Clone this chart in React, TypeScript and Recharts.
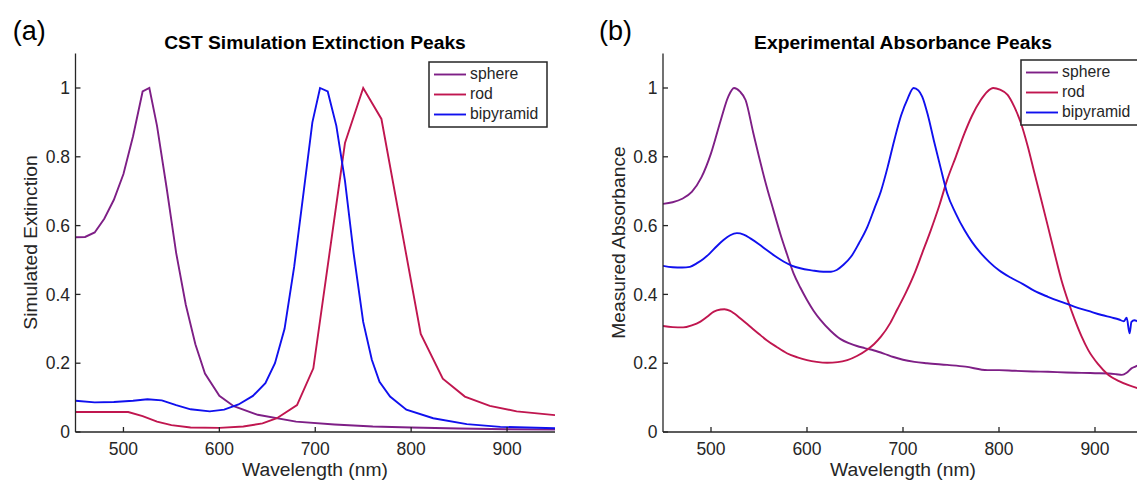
import React from 'react'
import { LineChart, Line, XAxis, YAxis } from 'recharts'

// (a) CST simulation, wavelength in nm
const simSphereX = [450, 460, 470, 480, 490, 500, 510, 520, 527, 535, 545, 555, 565, 575, 585, 600, 615, 640, 680, 720, 760, 800, 850, 900, 950]
const simSphereY = [0.566, 0.567, 0.58, 0.62, 0.675, 0.75, 0.86, 0.99, 1.0, 0.89, 0.71, 0.52, 0.37, 0.255, 0.17, 0.105, 0.075, 0.05, 0.03, 0.022, 0.016, 0.013, 0.01, 0.008, 0.007]

const simRodX = [450, 470, 490, 505, 520, 535, 550, 570, 600, 625, 645, 660, 681, 698, 731, 750, 769, 810, 833, 856, 882, 910, 950]
const simRodY = [0.058, 0.058, 0.058, 0.058, 0.046, 0.03, 0.02, 0.013, 0.012, 0.016, 0.025, 0.04, 0.078, 0.185, 0.84, 1.0, 0.91, 0.285, 0.155, 0.103, 0.076, 0.06, 0.049]

const simBipyX = [450, 470, 490, 510, 525, 540, 555, 570, 590, 605, 620, 635, 648, 658, 668, 678, 688, 697, 705, 713, 722, 731, 740, 750, 759, 767, 778, 795, 823, 858, 893, 950]
const simBipyY = [0.091, 0.086, 0.087, 0.091, 0.095, 0.092, 0.078, 0.066, 0.06, 0.065, 0.08, 0.105, 0.142, 0.2, 0.3, 0.48, 0.7, 0.9, 1.0, 0.99, 0.89, 0.73, 0.52, 0.32, 0.21, 0.146, 0.103, 0.065, 0.04, 0.023, 0.015, 0.011]

// (b) measured absorbance
const expSphereX = [450, 460, 470, 480, 490, 500, 510, 518, 524, 530, 536, 544, 550, 558, 565, 572, 579, 586, 593, 600, 607, 614, 625, 635, 645, 652, 660, 670, 680, 690, 700, 712, 725, 746, 765, 788, 800, 816, 835, 851, 870, 886, 900, 914, 922, 928, 933, 938, 942, 946, 950]
const expSphereY = [0.663, 0.668, 0.678, 0.698, 0.74, 0.81, 0.905, 0.975, 1.0, 0.99, 0.965, 0.87, 0.8, 0.713, 0.645, 0.578, 0.518, 0.461, 0.42, 0.384, 0.352, 0.326, 0.293, 0.27, 0.257, 0.25, 0.244, 0.237, 0.228, 0.218, 0.21, 0.204, 0.2, 0.195, 0.19, 0.18, 0.18, 0.178, 0.176, 0.175, 0.173, 0.172, 0.171, 0.17, 0.168, 0.166, 0.172, 0.185, 0.19, 0.195, 0.19]

const expRodX = [450, 460, 471, 480, 489, 496, 503, 510, 514, 520, 524, 532, 541, 550, 558, 568, 579, 590, 600, 610, 621, 632, 642, 652, 663, 670, 677, 687, 694, 703, 712, 720, 729, 738, 746, 755, 764, 772, 781, 788, 794, 801, 809, 816, 823, 830, 837, 844, 851, 858, 865, 872, 879, 886, 893, 903, 914, 925, 935, 945, 950]
const expRodY = [0.308, 0.305, 0.304, 0.31, 0.321, 0.335, 0.35, 0.356, 0.357, 0.352, 0.345, 0.327, 0.306, 0.285, 0.267, 0.248, 0.229, 0.217, 0.209, 0.204, 0.2015, 0.203, 0.209, 0.221, 0.24, 0.256, 0.277, 0.318, 0.356, 0.405, 0.461, 0.52, 0.587, 0.66, 0.733, 0.8, 0.868, 0.92, 0.965, 0.99, 1.0, 0.995, 0.98, 0.945, 0.897, 0.83, 0.752, 0.675, 0.597, 0.518, 0.442, 0.38, 0.326, 0.278, 0.238, 0.198, 0.166, 0.148, 0.136, 0.127, 0.123]

const expBipyX = [450, 460, 470, 478, 485, 492, 499, 506, 513, 520, 527, 534, 541, 550, 558, 567, 576, 584, 593, 605, 617, 625, 631, 638, 646, 654, 663, 670, 677, 684, 691, 698, 705, 711, 716, 720, 726, 732, 739, 746, 755, 764, 772, 781, 790, 800, 812, 825, 837, 851, 865, 879, 893, 907, 917, 925, 930, 933, 936, 938, 941, 945, 950]
const expBipyY = [0.483, 0.479, 0.478, 0.48, 0.49, 0.503, 0.52, 0.54, 0.558, 0.572, 0.578, 0.574, 0.563, 0.546, 0.529, 0.511, 0.495, 0.484, 0.476, 0.47, 0.466, 0.466, 0.471, 0.486, 0.51, 0.548, 0.597, 0.648, 0.7, 0.77, 0.849, 0.92, 0.97, 1.0, 0.993, 0.975, 0.92, 0.849, 0.77, 0.694, 0.635, 0.587, 0.552, 0.52, 0.494, 0.47, 0.449, 0.43, 0.41, 0.393, 0.378, 0.364, 0.352, 0.34, 0.333, 0.327, 0.322, 0.332, 0.287, 0.32, 0.325, 0.321, 0.318]

const xTicks = [500, 600, 700, 800, 900]
const yTicks = [0, 0.2, 0.4, 0.6, 0.8, 1]
const seriesNames = ['sphere', 'rod', 'bipyramid']

const COLORS = ['#7e1f86', '#c0164f', '#1010ee']
const AXIS = '#262626'
const FONT = '"Liberation Sans", Arial, Helvetica, sans-serif'

const zip = (xs: number[], ys: number[]) => xs.map((x, i) => ({ x, y: ys[i] }))

type PanelProps = {
    left: number
    width: number
    marginLeft: number
    marginRight: number
    series: { x: number; y: number }[][]
}

const Panel = ({ left, width, marginLeft, marginRight, series }: PanelProps) => (
    <div style={{ position: 'absolute', left, top: 0 }}>
        <LineChart
            width={width}
            height={483}
            margin={{ top: 53.6, right: marginRight, left: marginLeft, bottom: 21 }}
        >
            <XAxis
                dataKey="x"
                type="number"
                domain={[450, 950]}
                ticks={xTicks}
                allowDataOverflow
                height={30}
                stroke={AXIS}
                strokeWidth={1.3}
                tickSize={-5}
                tickMargin={15.6}
                tick={{ fill: AXIS, fontSize: 17.5, fontFamily: FONT }}
            />
            <YAxis
                dataKey="y"
                type="number"
                domain={[0, 1.1]}
                ticks={yTicks}
                allowDataOverflow
                width={60}
                stroke={AXIS}
                strokeWidth={1.3}
                tickSize={-5}
                tickMargin={10.5}
                tick={{ fill: AXIS, fontSize: 17.5, fontFamily: FONT }}
            />
            {series.map((d, i) => (
                <Line
                    key={seriesNames[i]}
                    data={d}
                    dataKey="y"
                    type={d.length > 40 ? 'monotone' : 'linear'}
                    stroke={COLORS[i]}
                    strokeWidth={1.9}
                    dot={false}
                    isAnimationActive={false}
                />
            ))}
        </LineChart>
    </div>
)

const LegendBox = ({ x, y }: { x: number; y: number }) => (
    <g>
        <rect x={x} y={y} width={118} height={65} fill="#fff" stroke={AXIS} strokeWidth={1.5} />
        {seriesNames.map((name, i) => (
            <g key={name}>
                <line x1={x + 5} x2={x + 37} y1={y + 12.5 + i * 20} y2={y + 12.5 + i * 20} stroke={COLORS[i]} strokeWidth={1.9} />
                <text x={x + 41} y={y + 17.3 + i * 20} fontSize={15.75} fontFamily={FONT} fill={AXIS}>
                    {name}
                </text>
            </g>
        ))}
    </g>
)

const App = () => {
    return (
        <div
            style={{
                position: 'fixed',
                left: 0,
                top: 0,
                width: 1137,
                height: 483,
                overflow: 'hidden',
                background: '#fff'
            }}
        >
            <Panel
                left={0}
                width={570}
                marginLeft={15.5}
                marginRight={15}
                series={[zip(simSphereX, simSphereY), zip(simRodX, simRodY), zip(simBipyX, simBipyY)]}
            />
            <Panel
                left={570}
                width={600}
                marginLeft={33}
                marginRight={27}
                series={[zip(expSphereX, expSphereY), zip(expRodX, expRodY), zip(expBipyX, expBipyY)]}
            />
            <svg
                width={1137}
                height={483}
                style={{ position: 'absolute', left: 0, top: 0, pointerEvents: 'none' }}
            >
                {/* panel letters */}
                <text x={12.7} y={40} fontSize={27} fontFamily={FONT} fill="#000">(a)</text>
                <text x={599} y={40} fontSize={27} fontFamily={FONT} fill="#000">(b)</text>

                {/* titles */}
                <text x={315} y={49} textAnchor="middle" fontSize={19.25} fontWeight="bold" fontFamily={FONT} fill="#000">
                    CST Simulation Extinction Peaks
                </text>
                <text x={903} y={49} textAnchor="middle" fontSize={19.25} fontWeight="bold" fontFamily={FONT} fill="#000">
                    Experimental Absorbance Peaks
                </text>

                {/* axis labels */}
                <text x={315} y={476} textAnchor="middle" fontSize={19.25} fontFamily={FONT} fill={AXIS}>
                    Wavelength (nm)
                </text>
                <text x={903} y={476} textAnchor="middle" fontSize={19.25} fontFamily={FONT} fill={AXIS}>
                    Wavelength (nm)
                </text>
                <text
                    transform="translate(37,242.5) rotate(-90)"
                    textAnchor="middle"
                    fontSize={19.25}
                    fontFamily={FONT}
                    fill={AXIS}
                >
                    Simulated Extinction
                </text>
                <text
                    transform="translate(624.5,242.5) rotate(-90)"
                    textAnchor="middle"
                    fontSize={19.25}
                    fontFamily={FONT}
                    fill={AXIS}
                >
                    Measured Absorbance
                </text>

                <LegendBox x={429} y={62} />
                <LegendBox x={1021} y={60} />
            </svg>
        </div>
    )
}

export default App
